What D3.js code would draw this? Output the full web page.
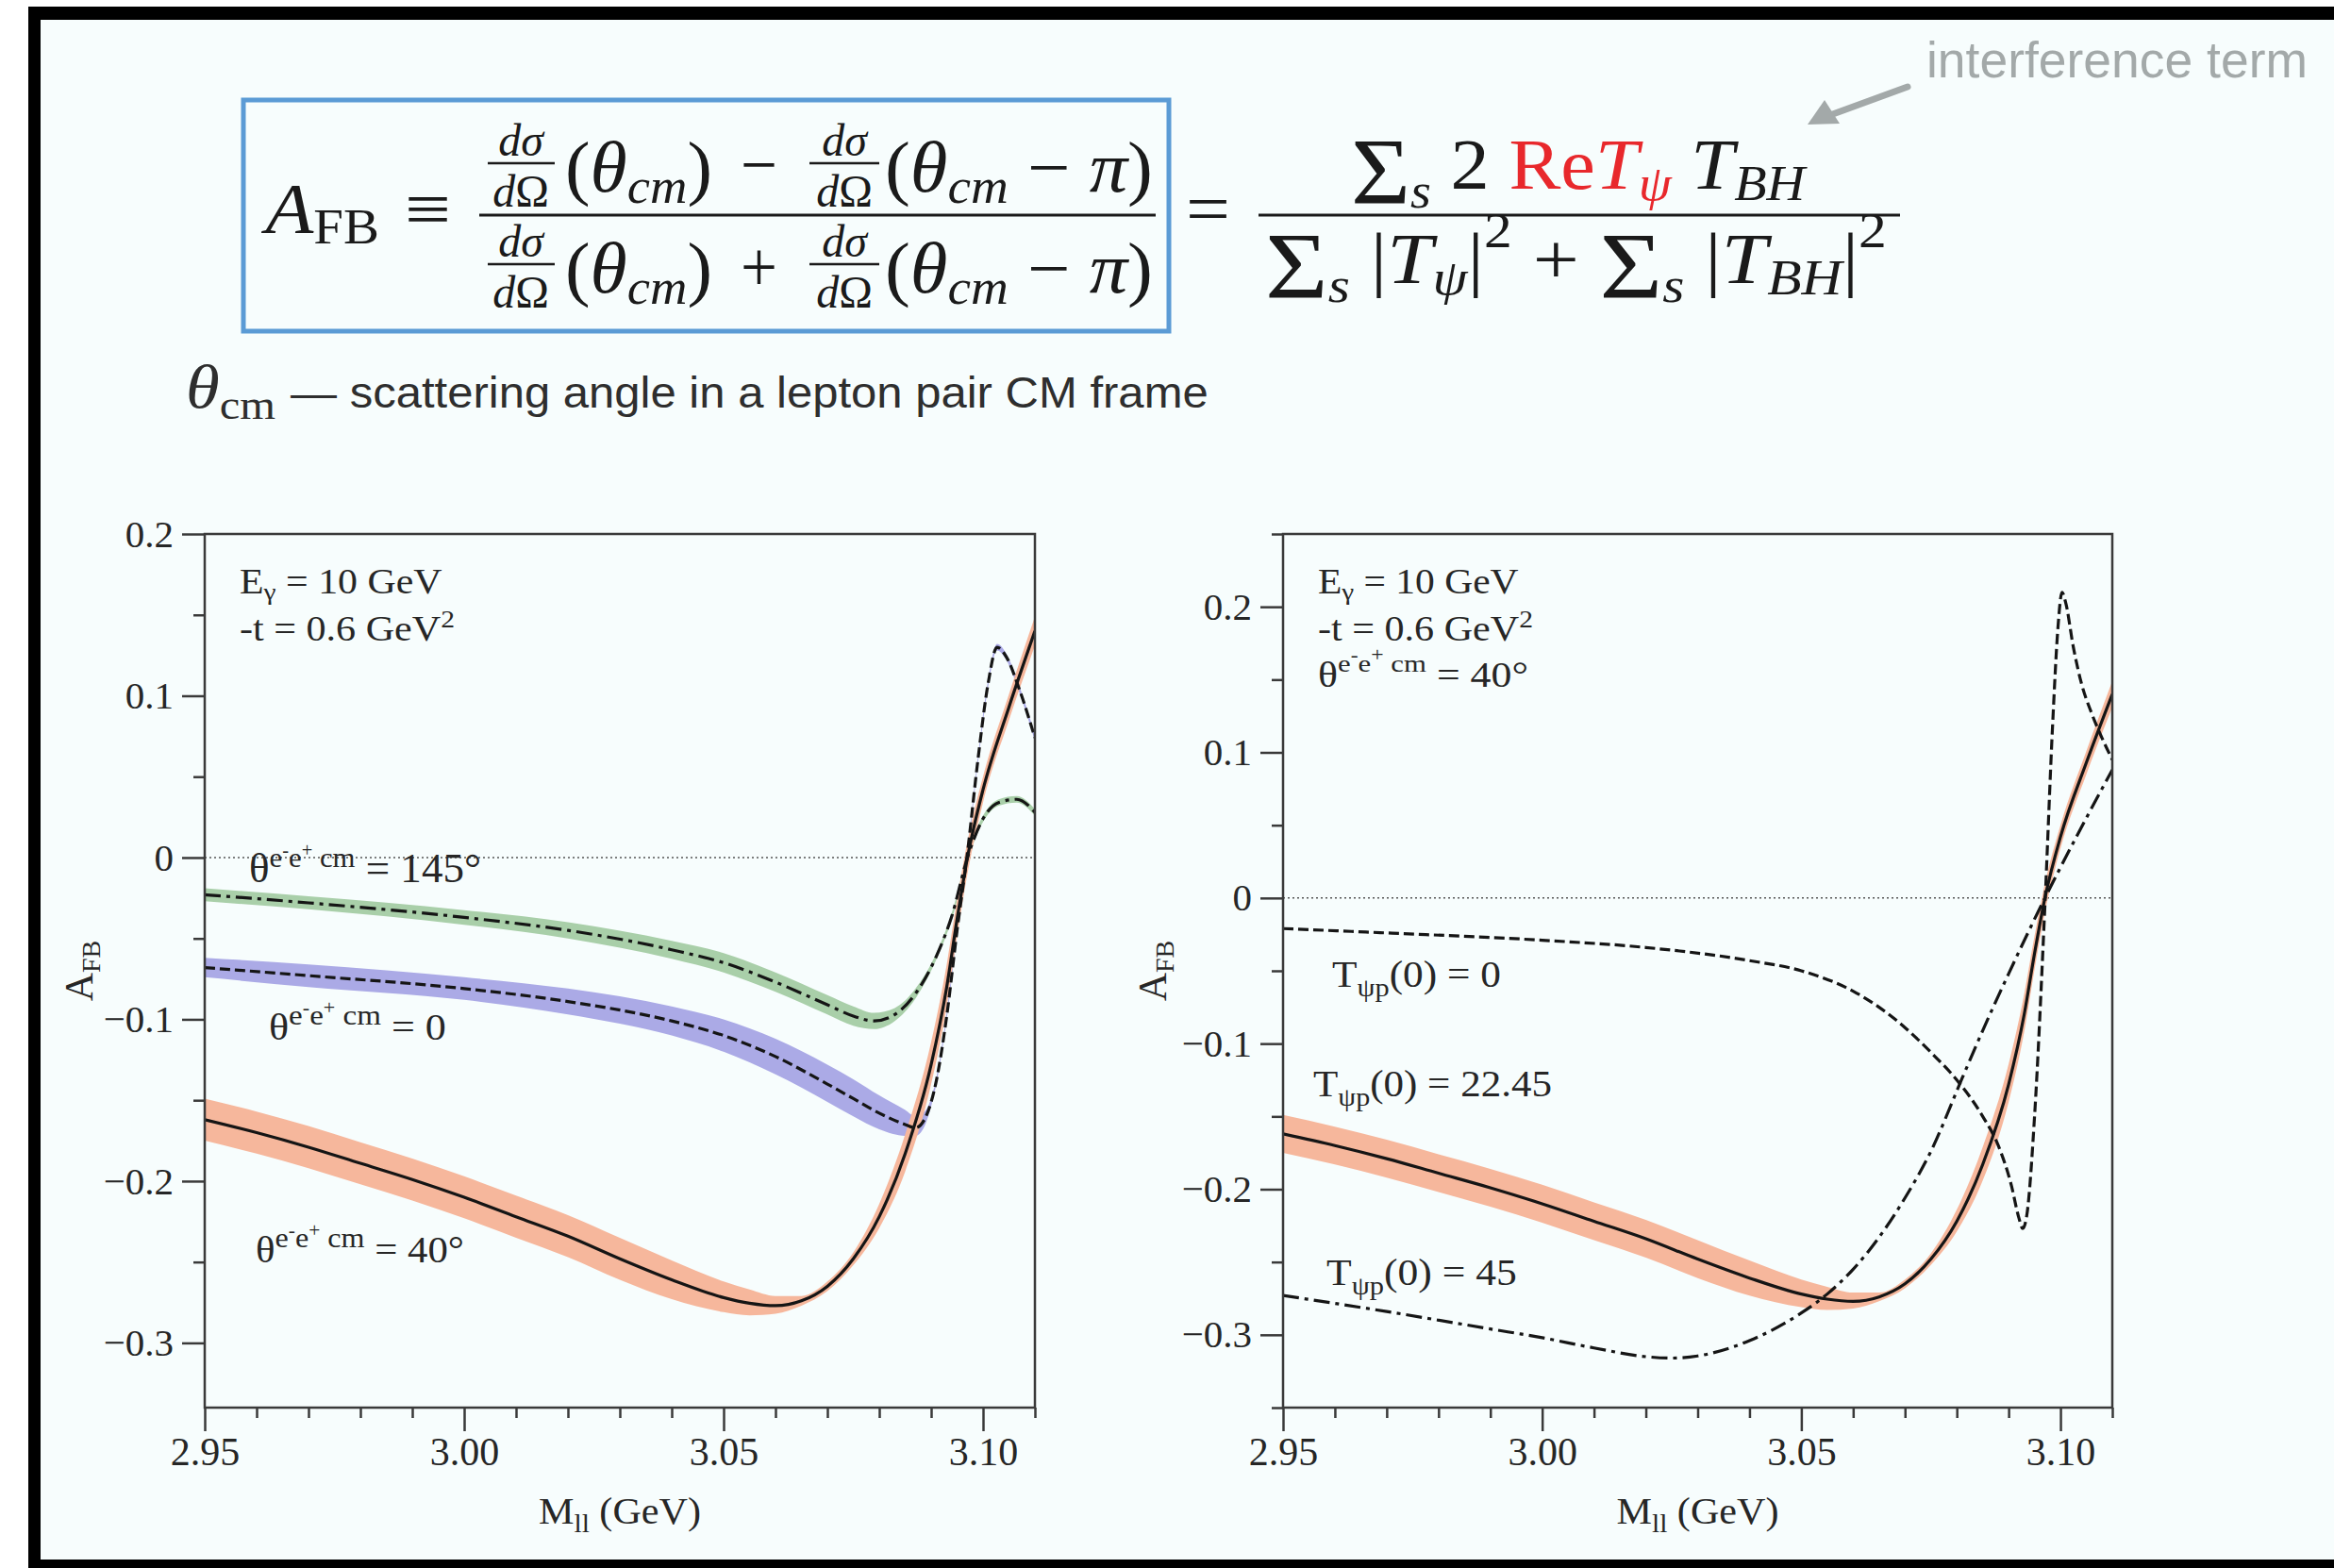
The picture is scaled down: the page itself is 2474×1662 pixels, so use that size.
<!DOCTYPE html>
<html>
<head>
<meta charset="utf-8">
<script src="https://cdn.jsdelivr.net/npm/d3@7"></script>
<style>
  html, body { margin: 0; padding: 0; background: #ffffff; }
  svg { display: block; }
  text { white-space: pre; }
</style>
</head>
<body>
<svg id="chart" width="2474" height="1662"></svg>
<script>
// ---------------------------------------------------------------
// Forward-backward asymmetry A_FB versus lepton-pair mass M_ll
// (E_gamma = 10 GeV, -t = 0.6 GeV^2)
// ---------------------------------------------------------------

// theta_cm = 40 deg (solid, with uncertainty band); also T_psip(0) = 22.45
const mass40 = [2.95, 2.96, 2.97, 2.98, 2.99, 3.00, 3.01, 3.02, 3.03, 3.04, 3.05, 3.055, 3.06, 3.065, 3.07, 3.075, 3.08, 3.085, 3.09, 3.093, 3.095, 3.097, 3.10, 3.105, 3.11];
const afb40 = [-0.162, -0.170, -0.179, -0.189, -0.199, -0.210, -0.222, -0.234, -0.248, -0.261, -0.272, -0.2755, -0.277, -0.274, -0.265, -0.248, -0.222, -0.183, -0.128, -0.080, -0.038, 0.000, 0.042, 0.093, 0.140];
const afb40Hi = [-0.149, -0.157, -0.166, -0.176, -0.186, -0.197, -0.209, -0.221, -0.235, -0.249, -0.262, -0.267, -0.271, -0.271, -0.262, -0.244, -0.214, -0.171, -0.114, -0.066, -0.026, 0.010, 0.050, 0.101, 0.149];
const afb40Lo = [-0.175, -0.183, -0.192, -0.202, -0.212, -0.223, -0.235, -0.247, -0.261, -0.273, -0.281, -0.283, -0.282, -0.277, -0.268, -0.252, -0.229, -0.194, -0.140, -0.092, -0.049, -0.010, 0.034, 0.085, 0.131];

// theta_cm = 0 (dashed, blue band)
const mass0 = [2.95, 2.97, 3.00, 3.02, 3.04, 3.05, 3.06, 3.07, 3.075, 3.08, 3.085, 3.087, 3.089, 3.091, 3.093, 3.095, 3.097, 3.099, 3.101, 3.1027, 3.1045, 3.107, 3.11];
const afb0 = [-0.068, -0.073, -0.081, -0.089, -0.101, -0.110, -0.123, -0.140, -0.149, -0.158, -0.165, -0.167, -0.160, -0.138, -0.098, -0.045, 0.003, 0.060, 0.108, 0.130, 0.124, 0.104, 0.074];
const afb0Hi = [-0.062, -0.066, -0.074, -0.081, -0.092, -0.100, -0.112, -0.128, -0.137, -0.147, -0.156, -0.160, -0.156, -0.136, -0.096, -0.043, 0.005, 0.062, 0.110, 0.132, 0.126, 0.106, 0.076];
const afb0Lo = [-0.074, -0.080, -0.088, -0.097, -0.110, -0.120, -0.134, -0.151, -0.160, -0.168, -0.172, -0.172, -0.164, -0.140, -0.100, -0.047, 0.001, 0.058, 0.106, 0.128, 0.122, 0.102, 0.072];

// theta_cm = 145 deg (dash-dot, green band)
const mass145 = [2.95, 2.97, 3.00, 3.02, 3.04, 3.05, 3.06, 3.07, 3.075, 3.079, 3.083, 3.087, 3.091, 3.094, 3.097, 3.10, 3.103, 3.1065, 3.11];
const afb145 = [-0.023, -0.028, -0.037, -0.045, -0.057, -0.065, -0.077, -0.091, -0.098, -0.101, -0.097, -0.084, -0.061, -0.036, 0.000, 0.024, 0.034, 0.036, 0.028];
const afb145Hi = [-0.019, -0.024, -0.0325, -0.040, -0.0515, -0.059, -0.071, -0.085, -0.092, -0.096, -0.093, -0.081, -0.059, -0.034, 0.002, 0.026, 0.036, 0.038, 0.030];
const afb145Lo = [-0.027, -0.032, -0.0415, -0.050, -0.0625, -0.071, -0.083, -0.097, -0.104, -0.106, -0.101, -0.087, -0.063, -0.038, -0.002, 0.022, 0.032, 0.034, 0.026];

// T_psip(0) = 0 (dashed) at theta_cm = 40 deg
const massT0 = [2.95, 2.97, 3.00, 3.02, 3.04, 3.05, 3.06, 3.065, 3.07, 3.075, 3.08, 3.085, 3.088, 3.0905, 3.092, 3.0927, 3.0935, 3.095, 3.097, 3.0985, 3.0995, 3.1003, 3.101, 3.1025, 3.104, 3.106, 3.108, 3.11];
const afbT0 = [-0.021, -0.024, -0.029, -0.034, -0.043, -0.050, -0.064, -0.075, -0.089, -0.106, -0.125, -0.150, -0.170, -0.197, -0.220, -0.227, -0.218, -0.150, -0.005, 0.120, 0.185, 0.210, 0.203, 0.172, 0.148, 0.127, 0.110, 0.095];

// T_psip(0) = 45 (dash-dot) at theta_cm = 40 deg
const massT45 = [2.95, 2.97, 2.99, 3.00, 3.01, 3.02, 3.025, 3.03, 3.04, 3.05, 3.055, 3.06, 3.065, 3.07, 3.075, 3.081, 3.085, 3.09, 3.097, 3.10, 3.105, 3.11];
const afbT45 = [-0.273, -0.284, -0.296, -0.302, -0.309, -0.315, -0.316, -0.3145, -0.304, -0.285, -0.272, -0.255, -0.233, -0.206, -0.174, -0.124, -0.091, -0.052, 0.000, 0.021, 0.055, 0.088];

// axis ticks
const massDomain = [2.95, 3.11];
const massTicks = [2.95, 3.00, 3.05, 3.10];
const massMinorTicks = [2.96, 2.97, 2.98, 2.99, 3.01, 3.02, 3.03, 3.04, 3.06, 3.07, 3.08, 3.09, 3.11];
const afbTicks = [-0.3, -0.2, -0.1, 0, 0.1, 0.2];
const afbMinorLeft = [-0.25, -0.15, -0.05, 0.05, 0.15];
const afbMinorRight = [-0.35, -0.25, -0.15, -0.05, 0.05, 0.15, 0.25];

// ---------------------------------------------------------------
const SERIF = "'Liberation Serif','Times New Roman','DejaVu Serif',serif";
const SANS = "'Liberation Sans','Helvetica','Arial',sans-serif";
const INK = "#262626";
const AXIS = "#3a3a3a";

const svg = d3.select("#chart");

// slide frame and background
svg.append("rect").attr("x", 43).attr("y", 21).attr("width", 2474 - 43).attr("height", 1653 - 21).attr("fill", "#f7fdfd");
svg.append("rect").attr("x", 30).attr("y", 7).attr("width", 13).attr("height", 1662 - 7).attr("fill", "#000");
svg.append("rect").attr("x", 30).attr("y", 7).attr("width", 2474 - 30).attr("height", 14).attr("fill", "#000");
svg.append("rect").attr("x", 30).attr("y", 1653).attr("width", 2474 - 30).attr("height", 9).attr("fill", "#000");

// rich text built from tspans: each part may change size, style, colour and baseline offset
function rich(parent, x, y, parts, base) {
  const t = parent.append("text")
    .attr("x", x).attr("y", y)
    .attr("font-family", base.font || SERIF)
    .attr("font-size", base.size)
    .attr("fill", base.fill || INK);
  if (base.anchor) t.attr("text-anchor", base.anchor);
  let cur = 0;
  parts.forEach(p => {
    const off = p.off || 0;
    const ts = t.append("tspan").text(p.t).attr("dy", off - cur);
    cur = off;
    if (p.s) ts.attr("font-size", p.s);
    if (p.it) ts.attr("font-style", "italic");
    if (p.fill) ts.attr("fill", p.fill);
    if (p.dx) ts.attr("dx", p.dx);
    if (p.font) ts.attr("font-family", p.font);
  });
  return t;
}

// stretch a text element horizontally so that it spans [x0, x1]
function fit(t, x0, x1) {
  const b = t.node().getBBox();
  const sx = (x1 - x0) / b.width;
  t.attr("transform", `translate(${x0} 0) scale(${sx} 1) translate(${-b.x} 0)`);
  return t;
}

// ---------------------------------------------------------------
// Formula header
const hdr = svg.append("g");
hdr.append("rect").attr("x", 258).attr("y", 106).attr("width", 981).attr("height", 245)
  .attr("fill", "none").attr("stroke", "#5b9bd5").attr("stroke-width", 5);

fit(rich(hdr, 276, 247, [{ t: "A", it: 1 }, { t: "FB", s: 52, off: 11 }], { size: 76, fill: "#1a1a1a" }), 276, 402);
fit(rich(hdr, 429, 247, [{ t: "≡" }], { size: 76, fill: "#1a1a1a" }), 429, 478);

// dσ over dΩ, stacked in one text element around a short bar
function smallFrac(g, cx, barY, x0, x1) {
  const t = g.append("text").attr("font-family", SERIF).attr("font-size", 48)
    .attr("fill", "#1a1a1a").attr("text-anchor", "middle");
  t.append("tspan").attr("x", cx).attr("y", barY - 8).attr("font-style", "italic").text("dσ");
  const d2 = t.append("tspan").attr("x", cx).attr("y", barY + 46);
  d2.append("tspan").attr("font-style", "italic").text("d");
  d2.append("tspan").text("Ω");
  g.append("line").attr("x1", x0).attr("x2", x1).attr("y1", barY).attr("y2", barY)
    .attr("stroke", "#1a1a1a").attr("stroke-width", 2.5);
}

[[0, "−", -3], [107, "+", -2]].forEach(([dyRow, op, opShift]) => {
  const base = 203 + dyRow;
  smallFrac(hdr, 552, 173 + dyRow, 517, 588);
  fit(rich(hdr, 599, base, [{ t: "(" }, { t: "θ", it: 1 }, { t: "cm", it: 1, s: 52, off: 12 }, { t: ")", off: 0 }], { size: 76, fill: "#1a1a1a" }), 599, 755);
  fit(rich(hdr, 785, base + opShift, [{ t: op }], { size: 76, fill: "#1a1a1a" }), 785, 824);
  smallFrac(hdr, 895, 173 + dyRow, 858, 932);
  fit(rich(hdr, 938, base, [{ t: "(" }, { t: "θ", it: 1 }, { t: "cm", it: 1, s: 52, off: 12 }, { t: " − ", off: 0 }, { t: "π", it: 1 }, { t: ")" }], { size: 76, fill: "#1a1a1a" }), 938, 1222);
});
hdr.append("line").attr("x1", 508).attr("x2", 1225).attr("y1", 228).attr("y2", 228).attr("stroke", "#1a1a1a").attr("stroke-width", 3);

fit(rich(hdr, 1257, 247, [{ t: "=" }], { size: 76, fill: "#1a1a1a" }), 1257, 1304);
hdr.append("line").attr("x1", 1334).attr("x2", 2014).attr("y1", 228).attr("y2", 228).attr("stroke", "#1a1a1a").attr("stroke-width", 3);

const RED = "#e8282c";
fit(rich(hdr, 1432, 200, [
  { t: "Σ", s: 100, off: 15 }, { t: "s", it: 1, s: 52, off: 20 }, { t: " 2 ", off: 0 },
  { t: "Re", fill: RED }, { t: "T", it: 1, fill: RED }, { t: "ψ", it: 1, s: 52, off: 12, fill: RED },
  { t: " T", it: 1, off: 0 }, { t: "BH", it: 1, s: 52, off: 12 }
], { size: 76, fill: "#1a1a1a" }), 1432, 1916);

fit(rich(hdr, 1341, 300, [
  { t: "Σ", s: 100, off: 15 }, { t: "s", it: 1, s: 52, off: 20 }, { t: " |", off: 0 }, { t: "T", it: 1 },
  { t: "ψ", it: 1, s: 52, off: 12 }, { t: "|", off: 0 }, { t: "2", s: 52, off: -38 }, { t: " + ", off: 0 },
  { t: "Σ", s: 100, off: 15 }, { t: "s", it: 1, s: 52, off: 20 }, { t: " |", off: 0 }, { t: "T", it: 1 },
  { t: "BH", it: 1, s: 52, off: 12 }, { t: "|", off: 0 }, { t: "2", s: 52, off: -38 }
], { size: 76, fill: "#1a1a1a" }), 1341, 2000);

// "interference term" note with arrow
fit(rich(hdr, 2042, 82, [{ t: "interference term" }], { size: 53, font: SANS, fill: "#a3a9a9" }), 2042, 2446);
hdr.append("line").attr("x1", 2022).attr("y1", 92).attr("x2", 1940).attr("y2", 122)
  .attr("stroke", "#a3a9a9").attr("stroke-width", 7).attr("stroke-linecap", "round");
hdr.append("path").attr("d", "M1916,132 L1934,106 L1950,131 Z").attr("fill", "#a3a9a9");

// caption
fit(rich(hdr, 197, 432, [{ t: "θ", it: 1 }, { t: "cm", s: 44, off: 12 }], { size: 66, fill: "#2e2e2e" }), 197, 292);
fit(rich(hdr, 308, 432, [{ t: "— scattering angle in a lepton pair CM frame" }], { size: 47, font: SANS, fill: "#2e2e2e" }), 308, 1281);

// ---------------------------------------------------------------
// Panels
const zip = (m, a) => m.map((v, i) => ({ m: v, a: a[i] }));
const zipBand = (m, lo, hi) => m.map((v, i) => ({ m: v, lo: lo[i], hi: hi[i] }));

const panels = [
  {
    x0: 217, x1: 1097, y0: 566, y1: 1492, yDomain: [-0.34, 0.2], yMinor: afbMinorLeft, ylabX: 98,
    bands: [
      { d: zipBand(mass145, afb145Lo, afb145Hi), fill: "#a9cfa9" },
      { d: zipBand(mass0, afb0Lo, afb0Hi), fill: "#abaae6" },
      { d: zipBand(mass40, afb40Lo, afb40Hi), fill: "#f6b79c" }
    ],
    lines: [
      { d: zip(mass145, afb145), dash: "17,6,4,6" },
      { d: zip(mass0, afb0), dash: "11,5" },
      { d: zip(mass40, afb40), dash: null }
    ],
    labels: [
      { x: 264, x1: 510, y: 935, parts: "theta", val: " = 145°", size: 44 },
      { x: 285, x1: 473, y: 1102, parts: "theta", val: " = 0", size: 40 },
      { x: 271, x1: 492, y: 1338, parts: "theta", val: " = 40°", size: 40 }
    ],
    header: [
      { x1: 469, y: 629, kind: "E" },
      { x1: 482, y: 679, kind: "t" }
    ],
    hx: 254
  },
  {
    x0: 1360, x1: 2239, y0: 566, y1: 1492, yDomain: [-0.35, 0.25], yMinor: afbMinorRight, ylabX: 1236,
    bands: [
      { d: zipBand(mass40, afb40Lo, afb40Hi), fill: "#f6b79c" }
    ],
    lines: [
      { d: zip(massT0, afbT0), dash: "11,5" },
      { d: zip(massT45, afbT45), dash: "17,6,4,6" },
      { d: zip(mass40, afb40), dash: null }
    ],
    labels: [
      { x: 1412, x1: 1591, y: 1046, parts: "T", val: "(0) = 0", size: 40 },
      { x: 1392, x1: 1645, y: 1162, parts: "T", val: "(0) = 22.45", size: 40 },
      { x: 1406, x1: 1608, y: 1362, parts: "T", val: "(0) = 45", size: 40 }
    ],
    header: [
      { x1: 1610, y: 629, kind: "E" },
      { x1: 1625, y: 679, kind: "t" },
      { x1: 1620, y: 728, kind: "theta" }
    ],
    hx: 1397
  }
];

function thetaParts(val, sup) {
  return [
    { t: "θ" },
    { t: "e", s: sup, off: -16 }, { t: "-", s: 20, off: -27 },
    { t: "e", s: sup, off: -16 }, { t: "+", s: 20, off: -27 },
    { t: " cm", s: sup, off: -16 },
    { t: val, off: 0 }
  ];
}

panels.forEach(p => {
  const g = svg.append("g");
  const x = d3.scaleLinear().domain(massDomain).range([p.x0, p.x1]);
  const y = d3.scaleLinear().domain(p.yDomain).range([p.y1, p.y0]);

  const clipId = "clip" + p.x0;
  svg.append("clipPath").attr("id", clipId).append("rect")
    .attr("x", p.x0).attr("y", p.y0).attr("width", p.x1 - p.x0).attr("height", p.y1 - p.y0);

  // zero line
  g.append("line").attr("x1", p.x0).attr("x2", p.x1).attr("y1", y(0)).attr("y2", y(0))
    .attr("stroke", "#555").attr("stroke-width", 1.5).attr("stroke-dasharray", "2,3");

  const plot = g.append("g").attr("clip-path", `url(#${clipId})`);
  const area = d3.area().x(d => x(d.m)).y0(d => y(d.lo)).y1(d => y(d.hi)).curve(d3.curveMonotoneX);
  const line = d3.line().x(d => x(d.m)).y(d => y(d.a)).curve(d3.curveMonotoneX);

  p.bands.forEach(b => plot.append("path").attr("d", area(b.d)).attr("fill", b.fill));
  p.lines.forEach(l => {
    const path = plot.append("path").attr("d", line(l.d)).attr("fill", "none")
      .attr("stroke", "#151515").attr("stroke-width", 3.2);
    if (l.dash) path.attr("stroke-dasharray", l.dash);
  });

  // axes: outward ticks on the left and bottom, plain frame on top and right
  const styleAxis = size => sel => {
    sel.select(".domain").remove();
    sel.selectAll(".tick line").attr("stroke", AXIS).attr("stroke-width", 2.5);
    sel.selectAll(".tick text").attr("font-family", SERIF).attr("font-size", size).attr("fill", INK);
  };
  g.append("g").attr("transform", `translate(${p.x0},0)`)
    .call(d3.axisLeft(y).tickValues(p.yMinor).tickSize(12).tickFormat("")).call(styleAxis(41));
  g.append("g").attr("transform", `translate(${p.x0},0)`)
    .call(d3.axisLeft(y).tickValues(afbTicks).tickSize(24).tickPadding(9)
      .tickFormat(d => d === 0 ? "0" : d3.format(".1f")(d))).call(styleAxis(41));
  g.append("g").attr("transform", `translate(0,${p.y1})`)
    .call(d3.axisBottom(x).tickValues(massMinorTicks).tickSize(11).tickFormat("")).call(styleAxis(42));
  g.append("g").attr("transform", `translate(0,${p.y1})`)
    .call(d3.axisBottom(x).tickValues(massTicks).tickSize(25).tickPadding(6)
      .tickFormat(d3.format(".2f"))).call(styleAxis(42));
  g.append("rect").attr("x", p.x0).attr("y", p.y0).attr("width", p.x1 - p.x0).attr("height", p.y1 - p.y0)
    .attr("fill", "none").attr("stroke", AXIS).attr("stroke-width", 2.5);

  // axis titles
  const midX = (p.x0 + p.x1) / 2;
  fit(rich(g, midX, 1615, [{ t: "M" }, { t: "ll", s: 28, off: 9 }, { t: " (GeV)", off: 0 }], { size: 40 }), midX - 86, midX + 86);
  const midY = (p.y0 + p.y1) / 2;
  rich(g, 0, 0, [{ t: "A" }, { t: "FB", s: 28, off: 8 }], { size: 42, anchor: "middle" })
    .attr("transform", `translate(${p.ylabX},${midY}) rotate(-90)`);

  // kinematics
  p.header.forEach(h => {
    let parts;
    if (h.kind === "E") parts = [{ t: "E" }, { t: "γ", s: 26, off: 7 }, { t: " = 10 GeV", off: 0 }];
    else if (h.kind === "t") parts = [{ t: "-t = 0.6 GeV" }, { t: "2", s: 26, off: -14 }];
    else parts = thetaParts(" = 40°", 26);
    fit(rich(g, p.hx, h.y, parts, { size: 37 }), p.hx, h.x1);
  });

  // curve labels
  p.labels.forEach(l => {
    const parts = l.parts === "theta" ? thetaParts(l.val, 30)
      : [{ t: "T" }, { t: "ψp", s: 28, off: 10 }, { t: l.val, off: 0 }];
    fit(rich(g, l.x, l.y, parts, { size: l.size }), l.x, l.x1);
  });
});
</script>
</body>
</html>
